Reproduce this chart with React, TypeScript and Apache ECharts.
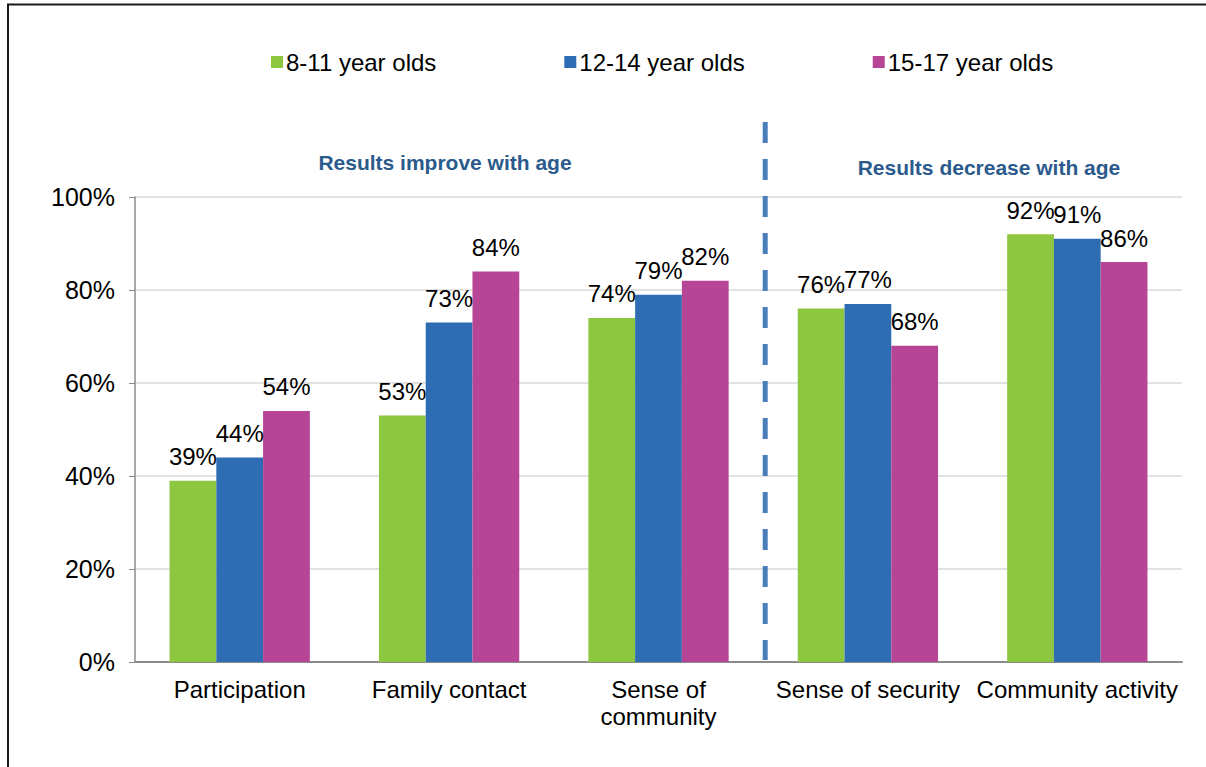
import React, { useEffect, useRef } from "react";
import * as echarts from "echarts";

const categories = ["Participation", "Family contact", "Sense of community", "Sense of security", "Community activity"];
const seriesNames = ["8-11 year olds", "12-14 year olds", "15-17 year olds"];
const age8to11 = [39, 53, 74, 76, 92];
const age12to14 = [44, 73, 79, 77, 91];
const age15to17 = [54, 84, 82, 68, 86];
const yTicks = [0, 20, 40, 60, 80, 100];
const noteLeft = "Results improve with age";
const noteRight = "Results decrease with age";

const colors = ["#8DC63F", "#2E6DB4", "#B64595"];
const FONT = "Liberation Sans, Arial, sans-serif";

export default function App() {
  const ref = useRef<HTMLDivElement>(null);
  useEffect(() => {
    const chart = echarts.init(ref.current!, null, { renderer: "svg" });
    const values = [age8to11, age12to14, age15to17];
    const option: any = {
      animation: false,
      backgroundColor: "#fff",
      textStyle: { fontFamily: FONT },
      legend: {
        left: 266,
        top: 45,
        itemWidth: 12,
        itemHeight: 12,
        itemGap: 128,
        icon: "rect",
        textStyle: { fontSize: 24, color: "#000", fontFamily: FONT, padding: [0, 0, 0, -2] },
        data: seriesNames,
      },
      grid: { left: 135, right: 24, top: 197, bottom: 105 },
      xAxis: {
        type: "category",
        data: categories,
        axisLine: { lineStyle: { color: "#8c8c8c", width: 2 } },
        axisTick: { show: false },
        axisLabel: {
          color: "#000",
          fontSize: 24,
          fontFamily: FONT,
          margin: 14,
          lineHeight: 27,
          interval: 0,
          formatter: (v: string) => (v === "Sense of community" ? "Sense of\ncommunity" : v),
        },
      },
      yAxis: {
        type: "value",
        min: 0,
        max: 100,
        interval: 20,
        axisLine: { show: true, lineStyle: { color: "#8c8c8c", width: 1.5 } },
        axisTick: { show: true, inside: false, length: 6, lineStyle: { color: "#8c8c8c" } },
        splitLine: { lineStyle: { color: "#d9d9d9", width: 1.5 } },
        axisLabel: {
          color: "#000",
          fontSize: 25,
          fontFamily: FONT,
          margin: 20,
          formatter: (v: number) => (yTicks.includes(v) ? v + "%" : ""),
        },
      },
      series: seriesNames.map((name, i) => ({
        name,
        type: "bar",
        data: values[i],
        barGap: "0%",
        barCategoryGap: "33%",
        itemStyle: { color: colors[i] },
        label: {
          show: true,
          position: "top",
          distance: 12,
          color: "#000",
          fontSize: 24,
          fontFamily: FONT,
          formatter: "{c}%",
        },
      })),
    };
    chart.setOption(option);
    const x2 = chart.convertToPixel({ xAxisIndex: 0 }, categories[2]) as number;
    const x3 = chart.convertToPixel({ xAxisIndex: 0 }, categories[3]) as number;
    const y0 = chart.convertToPixel({ yAxisIndex: 0 }, 0) as number;
    const xd = (x2 + x3) / 2 + 2;
    chart.setOption({
      graphic: [
        {
          type: "rect",
          shape: { x: 8, y: 4.5, width: 1400, height: 1000 },
          style: { fill: "none", stroke: "#1a1a1a", lineWidth: 2 },
          silent: true,
        },
        {
          type: "line",
          shape: { x1: xd, y1: 122, x2: xd, y2: y0 - 2 },
          style: { stroke: "#4A7EBB", lineWidth: 5, lineDash: [21, 16] },
          silent: true,
        },
        {
          type: "text",
          x: 445,
          y: 162,
          style: {
            text: noteLeft,
            fill: "#2B5A8C",
            font: "bold 21px " + FONT,
            textAlign: "center",
            textVerticalAlign: "middle",
          },
        },
        {
          type: "text",
          x: 989,
          y: 167,
          style: {
            text: noteRight,
            fill: "#2B5A8C",
            font: "bold 21px " + FONT,
            textAlign: "center",
            textVerticalAlign: "middle",
          },
        },
      ],
    });
    return () => chart.dispose();
  }, []);
  return (
    <div
      ref={ref}
      style={{ position: "fixed", left: 0, top: 0, width: 1206, height: 767 }}
    />
  );
}
